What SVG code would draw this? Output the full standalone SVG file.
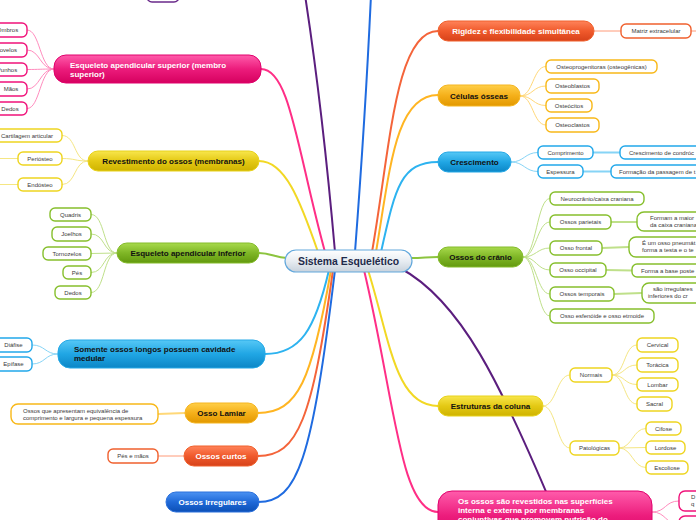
<svg xmlns="http://www.w3.org/2000/svg" width="696" height="520" viewBox="0 0 696 520">
<defs>
<linearGradient id="gPink" x1="0" y1="0" x2="0" y2="1"><stop offset="0" stop-color="#ff5cab"/><stop offset="0.5" stop-color="#ec1c7c"/><stop offset="1" stop-color="#d6005f"/></linearGradient>
<linearGradient id="gYel" x1="0" y1="0" x2="0" y2="1"><stop offset="0" stop-color="#f8e64c"/><stop offset="0.5" stop-color="#e4c914"/><stop offset="1" stop-color="#cfb300"/></linearGradient>
<linearGradient id="gGrn" x1="0" y1="0" x2="0" y2="1"><stop offset="0" stop-color="#a8da4c"/><stop offset="0.5" stop-color="#7fb626"/><stop offset="1" stop-color="#62990e"/></linearGradient>
<linearGradient id="gLBl" x1="0" y1="0" x2="0" y2="1"><stop offset="0" stop-color="#56c8f6"/><stop offset="0.5" stop-color="#20a6e4"/><stop offset="1" stop-color="#0b86c6"/></linearGradient>
<linearGradient id="gOrg" x1="0" y1="0" x2="0" y2="1"><stop offset="0" stop-color="#ffcf48"/><stop offset="0.5" stop-color="#f5b01a"/><stop offset="1" stop-color="#e29800"/></linearGradient>
<linearGradient id="gRed" x1="0" y1="0" x2="0" y2="1"><stop offset="0" stop-color="#ff835a"/><stop offset="0.5" stop-color="#f05a2c"/><stop offset="1" stop-color="#d7421a"/></linearGradient>
<linearGradient id="gBlu" x1="0" y1="0" x2="0" y2="1"><stop offset="0" stop-color="#4c92f2"/><stop offset="0.5" stop-color="#1f69d8"/><stop offset="1" stop-color="#0c4fb5"/></linearGradient>
<linearGradient id="gCen" x1="0" y1="0" x2="0" y2="1"><stop offset="0" stop-color="#ffffff"/><stop offset="0.5" stop-color="#e8edf2"/><stop offset="1" stop-color="#c8d2dc"/></linearGradient>
</defs>
<style>
.mt{font-family:'Liberation Sans',Arial,sans-serif;font-size:8px;font-weight:bold}
.w{fill:#ffffff}
.k{fill:#111111}
.ct{font-family:'Liberation Sans',Arial,sans-serif;font-size:6px;fill:#3a3a3a}
.c{text-anchor:middle}
.kid{fill:#ffffff;stroke-width:1.4}
.ln{fill:none;stroke-width:2}
.tl{fill:none;stroke-width:1}
.tk{fill:none;stroke-width:1.8}
.pk{stroke:#f0127a}.pkl{stroke:#ff8cbe}
.ye{stroke:#eed520}.yel{stroke:#f5e683}
.gr{stroke:#86bf2c}.grl{stroke:#bfe08a}
.lb{stroke:#22a8ea}.lbl{stroke:#86d4f6}
.or{stroke:#f8b818}.orl{stroke:#ffd878}
.rd{stroke:#f0602e}.rdl{stroke:#ff9a78}
.pu{stroke:#6a2a8a}
</style>

<g id="connectors">
<path class="ln" stroke="#5b1e7e" d="M335,252 C327,160 315,60 305,-5"/>
<path class="ln" stroke="#1f6be0" d="M355,252 C362,160 368,60 371,-5"/>
<path class="ln" stroke="#f4643a" d="M372,252 C390,150 395,31 438,31"/>
<path class="ln" stroke="#ffb522" d="M376,252 C390,170 395,95 438,95"/>
<path class="ln" stroke="#2db3f0" d="M381,252 C395,190 400,162 438,162"/>
<path class="ln" stroke="#ff2e86" d="M261,69 C290,69 297,150 325,252"/>
<path class="ln" stroke="#f2d824" d="M259,161 C285,161 300,200 318,252"/>
<path class="ln" stroke="#8cc43f" d="M259,253 C272,253 275,258 287,258"/>
<path class="ln" stroke="#8cc43f" d="M411,258 C424,258 426,257 438,257"/>
<path class="ln" stroke="#2db3f0" d="M329,270 C315,330 300,354 265,354"/>
<path class="ln" stroke="#ffb522" d="M331,270 C312,380 298,413 258,413"/>
<path class="ln" stroke="#f4643a" d="M333,270 C312,420 298,456 258,456"/>
<path class="ln" stroke="#1f6be0" d="M335,270 C312,460 298,502 258,502"/>
<path class="ln" stroke="#f2d824" d="M368,270 C390,340 395,406 438,406"/>
<path class="ln" stroke="#ff2e86" d="M364,270 C395,400 400,512 438,512"/>
<path class="ln" stroke="#5b1e7e" d="M400,268 C460,300 500,380 560,525"/>

<path class="tl pkl" d="M54,69 C40,69 40,30 27,30 M54,69 C40,69 40,50 27,50 M54,69 C40,69 40,69.5 27,69.5 M54,69 C40,69 40,89 27,89 M54,69 C40,69 40,108.5 27,108.5"/>
<path class="tl yel" d="M88,161 C74,161 76,135.5 62,135.5 M88,161 C74,161 76,158.5 62,158.5 M88,161 C74,161 76,184.5 62,184.5 M18,158.5 L-5,158.5 M18,184.5 L-5,184.5"/>
<path class="tl grl" d="M117,253 C103,253 105,214.5 91,214.5 M117,253 C103,253 105,234 91,234 M117,253 L91,253.5 M117,253 C103,253 105,272.5 91,272.5 M117,253 C103,253 105,292.5 91,292.5"/>
<path class="tl lbl" d="M58,354 C45,354 45,345 32,345 M58,354 C45,354 45,364 32,364"/>
<path class="tk orl" d="M185,413 L158,414"/>
<path class="tl rdl" d="M184,456 L158,456"/>
<path class="tl rdl" d="M594,31 L621,31 M691,31 L700,31"/>
<path class="tl orl" d="M520,96 C533,96 533,66.5 546,66.5 M520,96 C533,96 533,86 546,86 M520,96 C533,96 533,105.5 546,105.5 M520,96 C533,96 533,125 546,125"/>
<path class="tl lbl" d="M511,162 C524,162 525,152.5 538,152.5 M511,162 C524,162 525,171.5 538,171.5"/>
<path class="tk lbl" d="M593,152.5 L620,152.5 M583,171.5 L611,171.5"/>
<path class="tl grl" d="M523,257 C536,257 537,198.5 550,198.5 M523,257 C536,257 537,222 550,222 M523,257 C536,257 537,248 550,248 M523,257 C536,257 537,270 550,270 M523,257 C536,257 537,294 550,294 M523,257 C536,257 537,316 550,316"/>
<path class="tk grl" d="M611,222 L637,222 M602,248 L629,247 M606,270 L632,270.5 M614,294 L642,293"/>
<path class="tl yel" d="M543,406 C556,406 557,375 570,375 M543,406 C556,406 557,448 570,448"/>
<path class="tl yel" d="M612,375 C625,375 624,345 637,345 M612,375 C625,375 624,365 637,365 M612,375 C625,375 624,384.5 637,384.5 M612,375 C625,375 624,404 637,404"/>
<path class="tl yel" d="M619,448 C632,448 633,428.5 646,428.5 M619,448 L646,447.5 M619,448 C632,448 633,467.5 646,467.5"/>
<path class="tl pkl" d="M652,512 C666,512 665,501 679,501 M652,512 C666,512 665,524 679,524"/>
</g>

<g id="n-top"><rect x="147" y="-20" width="32" height="22" rx="5" fill="#ffffff" stroke="#6a2a8a" stroke-width="1.4"/></g>

<g id="n-center"><rect x="285" y="250" width="127" height="22" rx="11" fill="url(#gCen)" stroke="#62a8dc" stroke-width="1.2"/><text x="348.5" y="265" class="mt c" style="font-size:10.4px" fill="#1e2a4a">Sistema Esquelético</text></g>

<g id="n-sup"><rect x="54" y="55" width="207" height="28" rx="12" fill="url(#gPink)" stroke="#e0006c"/><text class="mt w" x="70" y="68">Esqueleto apendicular superior (membro</text><text class="mt w" x="70" y="77">superior)</text></g>
<g id="n-ombros"><rect class="kid pk" x="-12" y="23" width="39" height="14" rx="5"/><text class="ct c" x="7.5" y="32">Ombros</text></g>
<g id="n-cotovelos"><rect class="kid pk" x="-20" y="43" width="47" height="14" rx="5"/><text class="ct c" x="3.7" y="52">Cotovelos</text></g>
<g id="n-punhos"><rect class="kid pk" x="-13" y="63" width="40" height="13" rx="5"/><text class="ct c" x="7" y="71.5">Punhos</text></g>
<g id="n-maos"><rect class="kid pk" x="-5" y="82" width="32" height="14" rx="5"/><text class="ct c" x="11" y="91">Mãos</text></g>
<g id="n-dedos1"><rect class="kid pk" x="-7" y="102" width="34" height="13" rx="5"/><text class="ct c" x="10" y="110.5">Dedos</text></g>

<g id="n-rev"><rect x="88" y="151" width="171" height="20" rx="10" fill="url(#gYel)" stroke="#e8d21a"/><text class="mt k c" x="173.5" y="164">Revestimento do ossos (membranas)</text></g>
<g id="n-cart"><rect class="kid ye" x="-10" y="129" width="72" height="13" rx="5"/><text class="ct c" x="27" y="137.5">Cartilagem articular</text></g>
<g id="n-peri"><rect class="kid ye" x="18" y="152" width="44" height="13" rx="5"/><text class="ct c" x="40" y="160.5">Periósteo</text></g>
<g id="n-endo"><rect class="kid ye" x="18" y="178" width="44" height="13" rx="5"/><text class="ct c" x="40" y="186.5">Endósteo</text></g>

<g id="n-inf"><rect x="117" y="243" width="142" height="20" rx="10" fill="url(#gGrn)" stroke="#84bb2a"/><text class="mt k c" x="188" y="256">Esqueleto apendicular inferior</text></g>
<g id="n-quadris"><rect class="kid gr" x="50" y="208" width="41" height="13" rx="5"/><text class="ct c" x="70.5" y="216.5">Quadris</text></g>
<g id="n-joelhos"><rect class="kid gr" x="52" y="227" width="39" height="14" rx="5"/><text class="ct c" x="71.5" y="236">Joelhos</text></g>
<g id="n-torn"><rect class="kid gr" x="43" y="247" width="48" height="13" rx="5"/><text class="ct c" x="67" y="255.5">Tornozelos</text></g>
<g id="n-pes"><rect class="kid gr" x="63" y="266" width="28" height="13" rx="5"/><text class="ct c" x="77" y="274.5">Pés</text></g>
<g id="n-dedos2"><rect class="kid gr" x="55" y="286" width="36" height="13" rx="5"/><text class="ct c" x="73" y="294.5">Dedos</text></g>

<g id="n-som"><rect x="58" y="340" width="207" height="28" rx="12" fill="url(#gLBl)" stroke="#25a8e6"/><text class="mt k" x="74" y="352">Somente ossos longos possuem cavidade</text><text class="mt k" x="74" y="361">medular</text></g>
<g id="n-diaf"><rect class="kid lb" x="-10" y="338" width="42" height="14" rx="5"/><text class="ct c" x="13.5" y="347">Diáfise</text></g>
<g id="n-epif"><rect class="kid lb" x="-10" y="357" width="42" height="14" rx="5"/><text class="ct c" x="13.5" y="366">Epífase</text></g>

<g id="n-lam"><rect x="185" y="403" width="73" height="20" rx="10" fill="url(#gOrg)" stroke="#f5b520"/><text class="mt k c" x="221.5" y="416">Osso Lamiar</text></g>
<g id="n-lamk"><rect class="kid or" x="11" y="404" width="147" height="20" rx="7"/><text class="ct" x="23" y="412.5">Ossos que apresentam equivalência de</text><text class="ct" x="23" y="419.5">comprimento e largura e pequena espessura</text></g>

<g id="n-cur"><rect x="184" y="446" width="74" height="20" rx="10" fill="url(#gRed)" stroke="#f0602c"/><text class="mt w c" x="221" y="459">Ossos curtos</text></g>
<g id="n-pesmaos"><rect class="kid rd" x="108" y="449" width="50" height="14" rx="5"/><text class="ct c" x="133" y="458">Pés e mãos</text></g>

<g id="n-irr"><rect x="166" y="492" width="93" height="20" rx="10" fill="url(#gBlu)" stroke="#2a70dc"/><text class="mt w c" x="212.5" y="505">Ossos Irregulares</text></g>

<g id="n-rig"><rect x="438" y="21" width="156" height="20" rx="10" fill="url(#gRed)" stroke="#f0602c"/><text class="mt w c" x="516" y="34">Rigidez e flexibilidade simultânea</text></g>
<g id="n-matriz"><rect class="kid rd" x="621" y="24" width="70" height="14" rx="5"/><text class="ct c" x="656" y="33">Matriz extracelular</text></g>

<g id="n-cel"><rect x="438" y="85" width="82" height="21" rx="10" fill="url(#gOrg)" stroke="#f5b520"/><text class="mt k c" x="479" y="98.5">Células ósseas</text></g>
<g id="n-osteop"><rect class="kid or" x="546" y="60" width="111" height="13" rx="5"/><text class="ct c" x="601.5" y="68.5">Osteoprogenitoras (osteogênicas)</text></g>
<g id="n-osteob"><rect class="kid or" x="546" y="79" width="53" height="14" rx="5"/><text class="ct c" x="572.5" y="88">Osteoblastos</text></g>
<g id="n-osteoc"><rect class="kid or" x="546" y="99" width="46" height="13" rx="5"/><text class="ct c" x="569" y="107.5">Osteócitos</text></g>
<g id="n-osteocl"><rect class="kid or" x="546" y="118" width="53" height="14" rx="5"/><text class="ct c" x="572.5" y="127">Osteoclastos</text></g>

<g id="n-cre"><rect x="438" y="152" width="73" height="20" rx="10" fill="url(#gLBl)" stroke="#25a8e6"/><text class="mt k c" x="474.5" y="165">Crescimento</text></g>
<g id="n-comp"><rect class="kid lb" x="538" y="146" width="55" height="13" rx="5"/><text class="ct c" x="565.5" y="154.5">Comprimento</text></g>
<g id="n-esp"><rect class="kid lb" x="538" y="165" width="45" height="13" rx="5"/><text class="ct c" x="560.5" y="173.5">Espessura</text></g>
<g id="n-condr"><rect class="kid lb" x="620" y="146" width="90" height="13" rx="5"/><text class="ct" x="629" y="154.5">Crescimento de condróc</text></g>
<g id="n-form"><rect class="kid lb" x="611" y="165" width="100" height="13" rx="5"/><text class="ct" x="619" y="173.5">Formação da passagem de t</text></g>

<g id="n-cra"><rect x="438" y="247" width="85" height="20" rx="10" fill="url(#gGrn)" stroke="#84bb2a"/><text class="mt k c" x="480.5" y="260">Ossos do crânio</text></g>
<g id="n-neuro"><rect class="kid gr" x="550" y="192" width="94" height="13" rx="5"/><text class="ct c" x="597" y="200.5">Neurocrânio/caixa craniana</text></g>
<g id="n-pari"><rect class="kid gr" x="550" y="215" width="61" height="14" rx="5"/><text class="ct c" x="580.5" y="224">Ossos parietais</text></g>
<g id="n-front"><rect class="kid gr" x="550" y="241" width="52" height="14" rx="5"/><text class="ct c" x="576" y="250">Osso frontal</text></g>
<g id="n-occ"><rect class="kid gr" x="550" y="263" width="56" height="14" rx="5"/><text class="ct c" x="578" y="272">Osso occipital</text></g>
<g id="n-temp"><rect class="kid gr" x="550" y="287" width="64" height="14" rx="5"/><text class="ct c" x="582" y="296">Ossos temporais</text></g>
<g id="n-esfe"><rect class="kid gr" x="550" y="309" width="104" height="14" rx="5"/><text class="ct c" x="602" y="318">Osso esfenóide e osso etmoide</text></g>
<g id="n-pari2"><rect class="kid gr" x="637" y="212" width="70" height="19" rx="7"/><text class="ct" x="650" y="220">Formam a maior</text><text class="ct" x="650" y="227">da caixa craniana</text></g>
<g id="n-front2"><rect class="kid gr" x="629" y="237" width="80" height="20" rx="7"/><text class="ct" x="642" y="245">É um osso pneumát</text><text class="ct" x="642" y="252">forma a testa e o te</text></g>
<g id="n-occ2"><rect class="kid gr" x="632" y="264" width="70" height="13" rx="5"/><text class="ct" x="641" y="272.5">Forma a base poste</text></g>
<g id="n-temp2"><rect class="kid gr" x="642" y="283" width="60" height="20" rx="7"/><text class="ct" x="653" y="291">são irregulares</text><text class="ct" x="648" y="298">inferiores do cr</text></g>

<g id="n-col"><rect x="438" y="396" width="105" height="20" rx="10" fill="url(#gYel)" stroke="#e8d21a"/><text class="mt k c" x="490.5" y="409">Estruturas da coluna</text></g>
<g id="n-norm"><rect class="kid ye" x="570" y="368" width="42" height="14" rx="5"/><text class="ct c" x="591" y="377">Normais</text></g>
<g id="n-pato"><rect class="kid ye" x="570" y="441" width="49" height="14" rx="5"/><text class="ct c" x="594.5" y="450">Patológicas</text></g>
<g id="n-cerv"><rect class="kid ye" x="637" y="338" width="41" height="14" rx="5"/><text class="ct c" x="657.5" y="347">Cervical</text></g>
<g id="n-tor"><rect class="kid ye" x="637" y="358" width="41" height="14" rx="5"/><text class="ct c" x="657.5" y="367">Torácica</text></g>
<g id="n-lomb"><rect class="kid ye" x="637" y="378" width="41" height="13" rx="5"/><text class="ct c" x="657.5" y="386.5">Lombar</text></g>
<g id="n-sacr"><rect class="kid ye" x="637" y="397" width="35" height="14" rx="5"/><text class="ct c" x="654.5" y="406">Sacral</text></g>
<g id="n-cif"><rect class="kid ye" x="646" y="422" width="35" height="13" rx="5"/><text class="ct c" x="663.5" y="430.5">Cifose</text></g>
<g id="n-lord"><rect class="kid ye" x="646" y="441" width="39" height="13" rx="5"/><text class="ct c" x="665.5" y="449.5">Lordose</text></g>
<g id="n-esco"><rect class="kid ye" x="646" y="461" width="42" height="13" rx="5"/><text class="ct c" x="667" y="469.5">Escoliose</text></g>

<g id="n-oss"><rect x="438" y="491" width="214" height="50" rx="14" fill="url(#gPink)" stroke="#e0006c"/><text class="mt w" x="458" y="504">Os ossos são revestidos nas superfícies</text><text class="mt w" x="458" y="513">interna e externa por membranas</text><text class="mt w" x="458" y="522">conjuntivas que promovem nutrição do</text></g>
<g id="n-oss1"><rect class="kid pk" x="679" y="491" width="30" height="20" rx="6"/><text class="ct" x="691" y="499">D</text><text class="ct" x="691" y="506">q</text></g>
<g id="n-oss2"><rect class="kid pk" x="679" y="516" width="30" height="20" rx="6"/></g>
</svg>
